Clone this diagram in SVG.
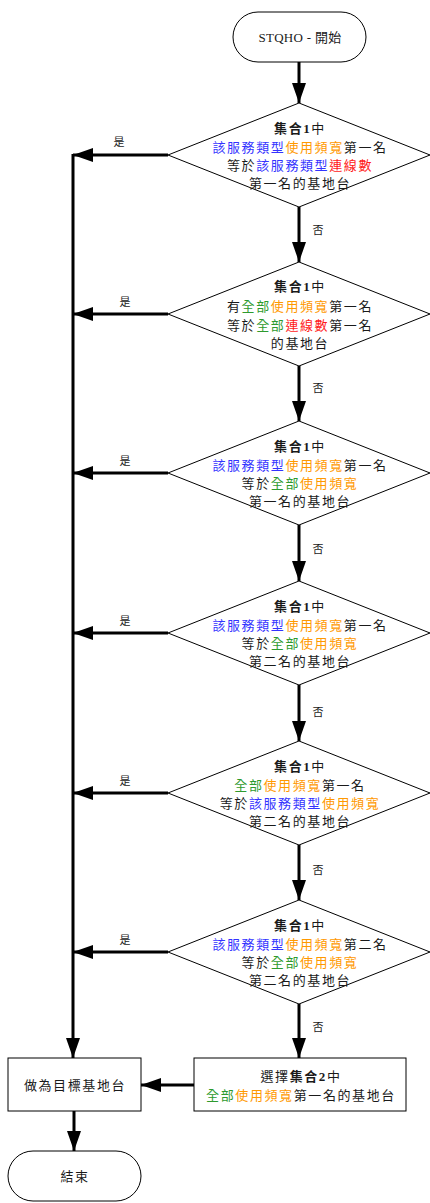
<svg xmlns="http://www.w3.org/2000/svg" width="430" height="1203" viewBox="0 0 430 1203">
  <style>
    .shape { fill: #ffffff; stroke: #000000; stroke-width: 1; }
    .conn { fill: none; stroke: #000000; stroke-width: 3; }
    .t { font-family: "Liberation Serif", "Noto Sans CJK TC", serif; font-size: 13px; letter-spacing: 1.6px; fill: #1a1a1a; text-anchor: middle; }
    .lbl { font-family: "Liberation Serif", "Noto Sans CJK TC", serif; font-size: 11px; fill: #1a1a1a; text-anchor: middle; }
    .b { font-weight: bold; }
    .blue { fill: #3333ff; }
    .orange { fill: #ff9900; }
    .red { fill: #ff1a1a; }
    .green { fill: #2e9a2e; }
  </style>
  <defs>
    <marker id="arrow" markerUnits="userSpaceOnUse" markerWidth="20" markerHeight="14" refX="20" refY="7" orient="auto">
      <path d="M0,0 L20,7 L0,14 z" fill="#000000"/>
    </marker>
  </defs>
  <rect width="430" height="1203" fill="#ffffff"/>

  <!-- connectors -->
  <g id="connectors">
    <line class="conn" x1="299" y1="62" x2="299" y2="103" marker-end="url(#arrow)"/>
    <!-- "no" chain down the right column -->
    <line class="conn" x1="299" y1="207" x2="299" y2="262" marker-end="url(#arrow)"/>
    <line class="conn" x1="299" y1="366" x2="299" y2="421" marker-end="url(#arrow)"/>
    <line class="conn" x1="299" y1="525" x2="299" y2="581" marker-end="url(#arrow)"/>
    <line class="conn" x1="299" y1="685" x2="299" y2="741" marker-end="url(#arrow)"/>
    <line class="conn" x1="299" y1="845" x2="299" y2="900" marker-end="url(#arrow)"/>
    <line class="conn" x1="299" y1="1004" x2="299" y2="1058" marker-end="url(#arrow)"/>
    <!-- "yes" branches into the left trunk -->
    <line class="conn" x1="168" y1="155" x2="73" y2="155" marker-end="url(#arrow)"/>
    <line class="conn" x1="168" y1="314" x2="73" y2="314" marker-end="url(#arrow)"/>
    <line class="conn" x1="168" y1="473" x2="73" y2="473" marker-end="url(#arrow)"/>
    <line class="conn" x1="168" y1="633" x2="73" y2="633" marker-end="url(#arrow)"/>
    <line class="conn" x1="168" y1="793" x2="73" y2="793" marker-end="url(#arrow)"/>
    <line class="conn" x1="168" y1="952" x2="73" y2="952" marker-end="url(#arrow)"/>
    <line class="conn" x1="73" y1="154" x2="73" y2="1058" marker-end="url(#arrow)"/>
    <!-- bottom boxes -->
    <line class="conn" x1="194" y1="1085" x2="141" y2="1085" marker-end="url(#arrow)"/>
    <line class="conn" x1="74" y1="1111" x2="74" y2="1151" marker-end="url(#arrow)"/>
    <!-- labels -->
    <text class="lbl" x="119" y="146">是</text>
    <text class="lbl" x="125" y="306">是</text>
    <text class="lbl" x="125" y="465">是</text>
    <text class="lbl" x="125" y="625">是</text>
    <text class="lbl" x="125" y="785">是</text>
    <text class="lbl" x="125" y="944">是</text>
    <text class="lbl" x="318" y="234">否</text>
    <text class="lbl" x="318" y="392">否</text>
    <text class="lbl" x="318" y="553">否</text>
    <text class="lbl" x="318" y="716">否</text>
    <text class="lbl" x="318" y="874">否</text>
    <text class="lbl" x="318" y="1031">否</text>
  </g>

  <!-- start -->
  <g id="start">
    <rect class="shape" x="233" y="12" width="133" height="50" rx="25" ry="25"/>
    <text class="t" x="300" y="42" style="letter-spacing:0.3px">STQHO - 開始</text>
  </g>

  <!-- decision 1 -->
  <g id="d1">
    <polygon class="shape" points="299,103 430,155 299,207 168,155"/>
    <text class="t" x="300" y="133"><tspan class="b">集合1</tspan>中</text>
    <text class="t" x="300" y="152"><tspan class="blue">該服務類型</tspan><tspan class="orange">使用頻寬</tspan>第一名</text>
    <text class="t" x="300" y="170">等於<tspan class="blue">該服務類型</tspan><tspan class="red">連線數</tspan></text>
    <text class="t" x="300" y="188">第一名的基地台</text>
  </g>

  <!-- decision 2 -->
  <g id="d2">
    <polygon class="shape" points="299,262 430,314 299,366 168,314"/>
    <text class="t" x="300" y="291"><tspan class="b">集合1</tspan>中</text>
    <text class="t" x="300" y="311">有<tspan class="green">全部</tspan><tspan class="orange">使用頻寬</tspan>第一名</text>
    <text class="t" x="300" y="330">等於<tspan class="green">全部</tspan><tspan class="red">連線數</tspan>第一名</text>
    <text class="t" x="300" y="348">的基地台</text>
  </g>

  <!-- decision 3 -->
  <g id="d3">
    <polygon class="shape" points="299,421 430,473 299,525 168,473"/>
    <text class="t" x="300" y="451"><tspan class="b">集合1</tspan>中</text>
    <text class="t" x="300" y="470"><tspan class="blue">該服務類型</tspan><tspan class="orange">使用頻寬</tspan>第一名</text>
    <text class="t" x="300" y="488">等於<tspan class="green">全部</tspan><tspan class="orange">使用頻寬</tspan></text>
    <text class="t" x="300" y="506">第一名的基地台</text>
  </g>

  <!-- decision 4 -->
  <g id="d4">
    <polygon class="shape" points="299,581 430,633 299,685 168,633"/>
    <text class="t" x="300" y="611"><tspan class="b">集合1</tspan>中</text>
    <text class="t" x="300" y="630"><tspan class="blue">該服務類型</tspan><tspan class="orange">使用頻寬</tspan>第一名</text>
    <text class="t" x="300" y="648">等於<tspan class="green">全部</tspan><tspan class="orange">使用頻寬</tspan></text>
    <text class="t" x="300" y="666">第二名的基地台</text>
  </g>

  <!-- decision 5 -->
  <g id="d5">
    <polygon class="shape" points="299,741 430,793 299,845 168,793"/>
    <text class="t" x="300" y="771"><tspan class="b">集合1</tspan>中</text>
    <text class="t" x="300" y="790"><tspan class="green">全部</tspan><tspan class="orange">使用頻寬</tspan>第一名</text>
    <text class="t" x="300" y="808">等於<tspan class="blue">該服務類型</tspan><tspan class="orange">使用頻寬</tspan></text>
    <text class="t" x="300" y="826">第二名的基地台</text>
  </g>

  <!-- decision 6 -->
  <g id="d6">
    <polygon class="shape" points="299,900 430,952 299,1004 168,952"/>
    <text class="t" x="300" y="930"><tspan class="b">集合1</tspan>中</text>
    <text class="t" x="300" y="949"><tspan class="blue">該服務類型</tspan><tspan class="orange">使用頻寬</tspan>第二名</text>
    <text class="t" x="300" y="967">等於<tspan class="green">全部</tspan><tspan class="orange">使用頻寬</tspan></text>
    <text class="t" x="300" y="985">第二名的基地台</text>
  </g>

  <!-- fallback selection -->
  <g id="select2">
    <rect class="shape" x="194" y="1058" width="212" height="53"/>
    <text class="t" x="301" y="1081">選擇<tspan class="b">集合2</tspan>中</text>
    <text class="t" x="301" y="1100"><tspan class="green">全部</tspan><tspan class="orange">使用頻寬</tspan>第一名的基地台</text>
  </g>

  <!-- target -->
  <g id="target">
    <rect class="shape" x="8" y="1058" width="133" height="53"/>
    <text class="t" x="75" y="1090">做為目標基地台</text>
  </g>

  <!-- end -->
  <g id="end">
    <rect class="shape" x="8" y="1151" width="133" height="50" rx="25" ry="25"/>
    <text class="t" x="75" y="1181">結束</text>
  </g>
</svg>
